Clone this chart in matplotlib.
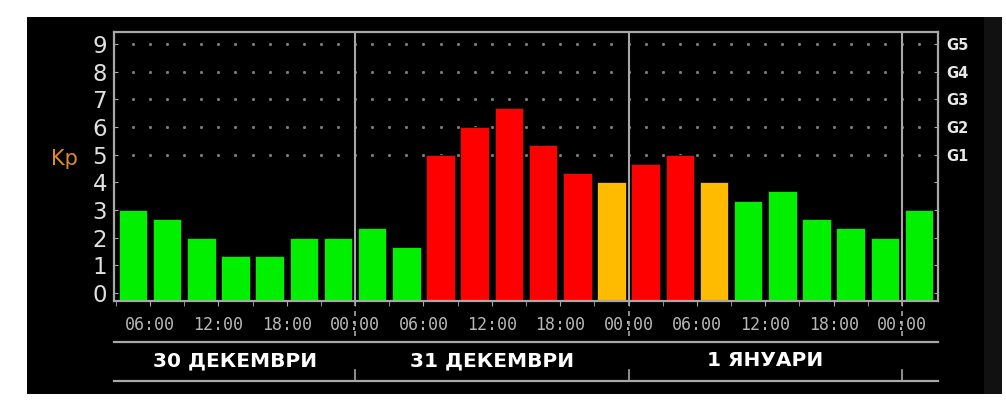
import numpy as np
import matplotlib
matplotlib.use("Agg")
import matplotlib.pyplot as plt
from matplotlib.patches import Rectangle
from matplotlib import transforms

# Kp index per 3-hour slot, hours counted from 30 Dec 00:00
slot_start = np.arange(3, 75, 3)
kp = [3.0, 2.67, 2.0, 1.33, 1.33, 2.0, 2.0,
      2.33, 1.67, 5.0, 6.0, 6.67, 5.33, 4.33, 4.0,
      4.67, 5.0, 4.0, 3.33, 3.67, 2.67, 2.33, 2.0,
      3.0]
tick_hours = [6, 12, 18, 24, 30, 36, 42, 48, 54, 60, 66, 72]
tick_text = ["06:00", "12:00", "18:00", "00:00"] * 3
day_edges = [24, 48, 72]
day_names = ["30 ДЕКЕМВРИ", "31 ДЕКЕМВРИ", "1 ЯНУАРИ"]
day_centers = [13.5, 36, 60]
g_levels = [5, 6, 7, 8, 9]
g_names = ["G1", "G2", "G3", "G4", "G5"]

GREEN = "#00f000"
ORANGE = "#ffbb00"
RED = "#ff0000"
FRAME = "#a8a8a8"


def kp_color(v):
    if v < 3.9:
        return GREEN
    if v < 4.2:
        return ORANGE
    return RED


fig = plt.figure(figsize=(10.06, 4.08), dpi=100, facecolor="white")
# black screen area behind the chart
fig.patches.append(Rectangle((0.0268, 0.0343), 0.951, 0.924, transform=fig.transFigure,
                             facecolor="black", edgecolor="none", zorder=-10))
fig.patches.append(Rectangle((0.978, 0.0343), 0.018, 0.924, transform=fig.transFigure,
                             facecolor="#111111", edgecolor="none", zorder=-10))

ax = fig.add_axes([0.1133, 0.2623, 0.8191, 0.6593])
ax.set_facecolor("black")
ymin, ymax = -0.29, 9.43
ax.set_xlim(2.84, 75.16)
ax.set_ylim(ymin, ymax)

# dotted grid in the upper part
gx = np.arange(4.5, 75, 1.5)
for lvl in g_levels:
    ax.plot(gx, [lvl] * len(gx), ls="none", marker="s", ms=1.1, color="#7a7a7a", zorder=1)

centers = slot_start + 1.5
ax.bar(centers, [v - ymin for v in kp], bottom=ymin, width=2.5,
       color=[kp_color(v) for v in kp], edgecolor="#111111", linewidth=0.6, zorder=2)

for d in day_edges:
    ax.axvline(d, color=FRAME, lw=1.5, zorder=3)

for s in ax.spines.values():
    s.set_color(FRAME)
    s.set_linewidth(1.6)

ax.set_yticks(range(10))
ax.set_yticklabels([str(i) for i in range(10)], fontsize=16.5, color="#e0e0e0")
ax.tick_params(axis="y", direction="in", length=3, color=FRAME, pad=5)

ax.set_xticks(tick_hours)
ax.set_xticklabels(tick_text, family="DejaVu Sans Mono", fontsize=12, color="#b8b8b8")
ax.set_xticks(np.arange(3, 75, 6), minor=True)
ax.tick_params(axis="x", which="both", direction="out", length=3.5, color=FRAME, pad=7)

ax2 = ax.twinx()
ax2.set_ylim(ymin, ymax)
ax2.set_yticks(range(10))
ax2.set_yticklabels([""] * 5 + g_names, fontsize=10.5, fontweight="bold", color="#e8e8e8")
ax2.tick_params(axis="y", direction="in", length=3, color=FRAME, pad=6)
for s in ax2.spines.values():
    s.set_visible(False)

fig.text(0.051, 0.61, "Kp", color="#e08a22", fontsize=15, ha="left", va="center")

# date band below the axis
trans = transforms.blended_transform_factory(ax.transData, ax.transAxes)
ax.plot([0, 1], [-0.152, -0.152], transform=ax.transAxes, color=FRAME, lw=1.6, clip_on=False)
ax.plot([0, 1], [-0.297, -0.297], transform=ax.transAxes, color=FRAME, lw=1.6, clip_on=False)
for d in day_edges:
    ax.plot([d, d], [0, -0.152], transform=trans, color=FRAME, lw=1.2,
            ls=(0, (3, 3)), clip_on=False)
    ax.plot([d, d], [-0.257, -0.297], transform=trans, color=FRAME, lw=1.2, clip_on=False)
for c, name in zip(day_centers, day_names):
    ax.text(c, -0.222, name, transform=trans, ha="center", va="center",
            fontsize=14.5, fontweight="bold", color="white")

fig.savefig("out.png", dpi=100, facecolor=fig.get_facecolor())
